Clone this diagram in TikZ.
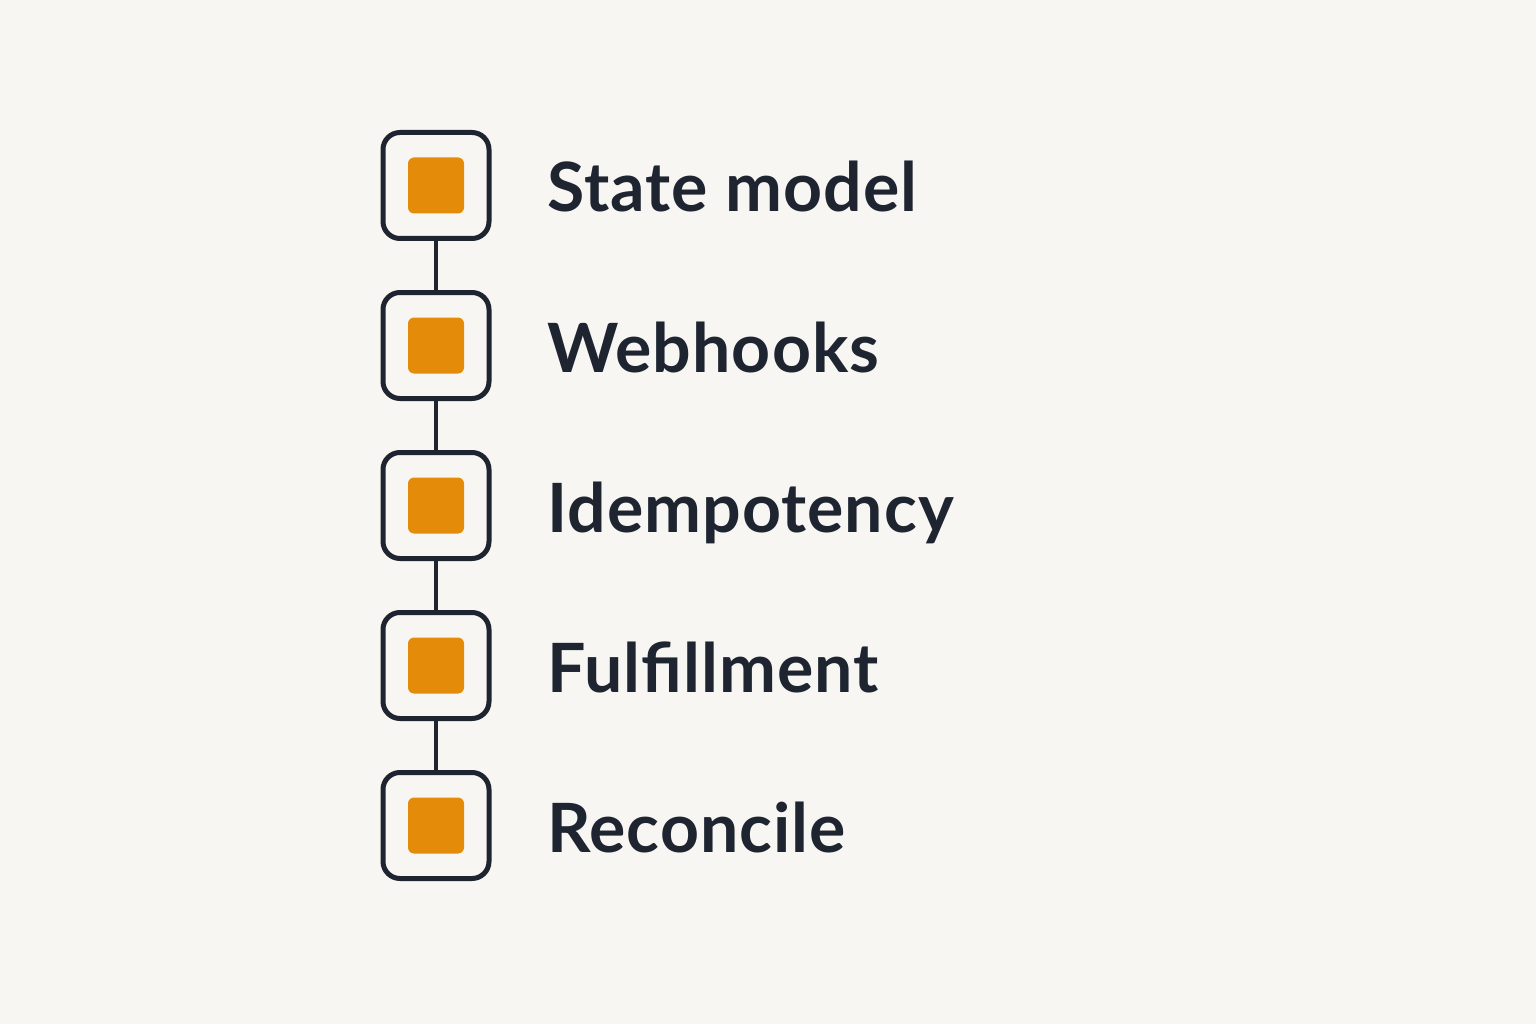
\documentclass[tikz,border=0pt]{standalone}
\usepackage{fontspec}
\setmainfont{Lato}[LetterSpace=1.5]
\definecolor{bg}{HTML}{F8F6F2}
\definecolor{ink}{HTML}{1E2530}
\definecolor{orng}{HTML}{E58B0A}
\begin{document}
\begin{tikzpicture}[x=1pt,y=-1pt,
  outerbox/.style={draw=ink,line width=5pt,rounded corners=17pt,minimum width=106pt,minimum height=106pt,inner sep=0pt,fill=bg},
  innerbox/.style={fill=orng,rounded corners=6pt,minimum width=56pt,minimum height=56pt,inner sep=0pt},
  lbl/.style={anchor=base west,text=ink,font=\fontsize{68}{72}\selectfont\bfseries,inner sep=0pt},
  link/.style={draw=ink,line width=3.5pt}]
\fill[bg] (0,0) rectangle (1536,1024);
\useasboundingbox (0,0) rectangle (1536,1024);
\foreach \i/\t in {1/State model,2/Webhooks,3/Idempotency,4/Fulfillment,5/Reconcile}{
  \node[outerbox] (b\i) at (436,{185.5+160*(\i-1)}) {};
  \node[innerbox] (c\i) at (b\i.center) {};
  \node[lbl] (t\i) at (547,{212+160*(\i-1)}) {\t};
}
\foreach \i/\j in {1/2,2/3,3/4,4/5}{
  \draw[link] (b\i.south) -- (b\j.north);
}
\end{tikzpicture}
\end{document}
